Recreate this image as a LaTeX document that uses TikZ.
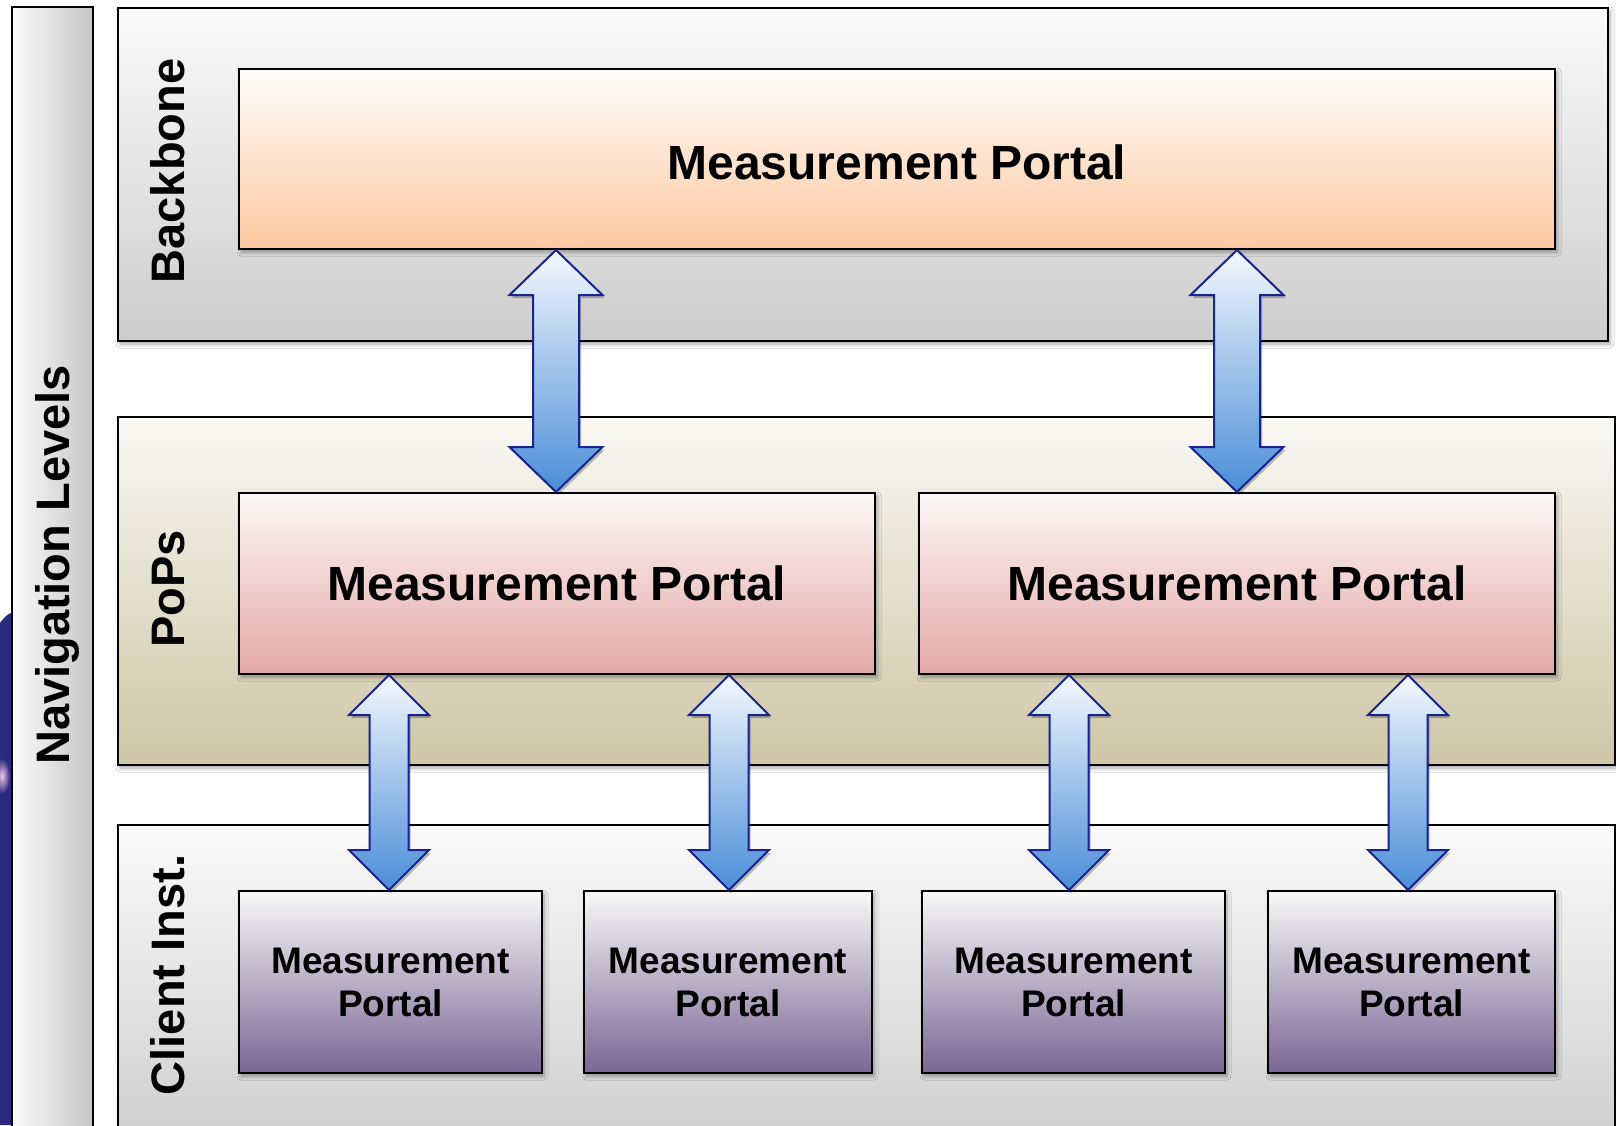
\documentclass[tikz,border=0pt]{standalone}
\usepackage{fontspec}
\setmainfont{Liberation Sans}
\usetikzlibrary{calc,shadows,shadows.blur}
\definecolor{navyblue}{HTML}{2B2A7F}
\definecolor{pinkglow}{HTML}{F2C6E6}
\definecolor{colL}{HTML}{FBFBFB}
\definecolor{colR}{HTML}{C6C6C6}
\definecolor{panTop}{HTML}{FAFAFA}
\definecolor{panBot}{HTML}{CDCDCD}
\definecolor{popTop}{HTML}{F9F8F4}
\definecolor{popBot}{HTML}{CEC6A6}
\definecolor{bbTop}{HTML}{FFFDFB}
\definecolor{bbBot}{HTML}{FCC8A0}
\definecolor{ppTop}{HTML}{FDF8F8}
\definecolor{ppBot}{HTML}{E3A8A6}
\definecolor{clTop}{HTML}{F8F8F8}
\definecolor{clBot}{HTML}{7A6694}
\definecolor{arTop}{HTML}{F4F8FE}
\definecolor{arBot}{HTML}{4A8DD8}
\definecolor{arLine}{HTML}{17238F}
\newcommand{\dblarrow}[6]{%
  \coordinate (at) at ({#3},0 |- #1.south);
  \coordinate (ab) at ({#3},0 |- #2.north);
  \draw[arrowsty] (at) -- ++(#4,#6) -- ++({-(#4-#5)},0) -- ($(ab)+(#5,-#6)$)
    -- ++({#4-#5},0) -- (ab) -- ++(-#4,-#6) -- ++({#4-#5},0)
    -- ($(at)+(-#5,#6)$) -- ++({-(#4-#5)},0) -- cycle;
}
\begin{document}
\begin{tikzpicture}[x=1pt,y=-1pt,
  shd/.style={blur shadow={shadow xshift=2pt,shadow yshift=-3pt,shadow blur radius=4pt,shadow opacity=35}},
  box/.style={draw=black,line width=2pt,anchor=north west,inner sep=0pt,shd},
  panel/.style={box,top color=panTop,bottom color=panBot},
  poppanel/.style={box,top color=popTop,bottom color=popBot},
  bigbox/.style={box,top color=bbTop,bottom color=bbBot,font=\fontsize{48}{58}\selectfont\bfseries},
  popbox/.style={box,top color=ppTop,bottom color=ppBot,font=\fontsize{48}{58}\selectfont\bfseries},
  clbox/.style={box,top color=clTop,bottom color=clBot,align=center,font=\fontsize{37}{43}\selectfont\bfseries},
  sidelbl/.style={rotate=90,inner sep=0pt,text height=34pt,text depth=0pt,anchor=center,font=\fontsize{47}{50}\selectfont\bfseries},
  arrowsty/.style={draw=arLine,line width=2pt,top color=arTop,bottom color=arBot,
    drop shadow={shadow xshift=2pt,shadow yshift=-3pt,opacity=0.25,fill=black}}]
\useasboundingbox (0,0) rectangle (1616,1125);
\clip (0,0) rectangle (1616,1125);
\fill[white] (0,0) rectangle (1616,1125);
% fragment of a background picture at the left edge
\fill[navyblue] (0,623) .. controls (5,616) and (9,613) .. (14,612) -- (14,1125) -- (0,1125) -- cycle;
\shade[inner color=pinkglow,outer color=navyblue] (2,776) ellipse (8 and 18);
% navigation column
\node[draw=black,line width=2pt,anchor=north west,inner sep=0pt,left color=colL,right color=colR,
  minimum width=81,minimum height=1140] (nav) at (11,6) {};
\node[sidelbl] (navlbl) at (52.5,565) {Navigation Levels};
% level panels
\node[panel,minimum width=1490,minimum height=333] (bbpanel) at (117,7) {};
\node[poppanel,minimum width=1497,minimum height=348] (poppanel) at (117,416) {};
\node[panel,minimum width=1497,minimum height=330] (clpanel) at (117,824) {};
\node[sidelbl] (bblbl) at (167,171) {Backbone};
\node[sidelbl] (poplbl) at (167,589) {PoPs};
\node[sidelbl] (cllbl) at (167,975) {Client Inst.};
% portals
\node[bigbox,text height=41pt,text depth=0pt,minimum width=1316,minimum height=180] (bb) at (238,68) {Measurement Portal};
\node[popbox,minimum width=636,minimum height=181] (pop1) at (238,492) {Measurement Portal};
\node[popbox,minimum width=636,minimum height=181] (pop2) at (918,492) {Measurement Portal};
\node[clbox,minimum width=303,minimum height=182] (cl1) at (238,890) {Measurement\\Portal};
\node[clbox,minimum width=288,minimum height=182] (cl2) at (583,890) {Measurement\\Portal};
\node[clbox,minimum width=303,minimum height=182] (cl3) at (921,890) {Measurement\\Portal};
\node[clbox,minimum width=287,minimum height=182] (cl4) at (1267,890) {Measurement\\Portal};
% arrows
\dblarrow{bb}{pop1}{556}{46.5}{23}{45}
\dblarrow{bb}{pop2}{1237}{46.5}{23}{45}
\dblarrow{pop1}{cl1}{389}{40}{19.5}{40}
\dblarrow{pop1}{cl2}{729}{40}{19.5}{40}
\dblarrow{pop2}{cl3}{1069}{40}{19.5}{40}
\dblarrow{pop2}{cl4}{1408}{40}{19.5}{40}
\end{tikzpicture}
\end{document}
